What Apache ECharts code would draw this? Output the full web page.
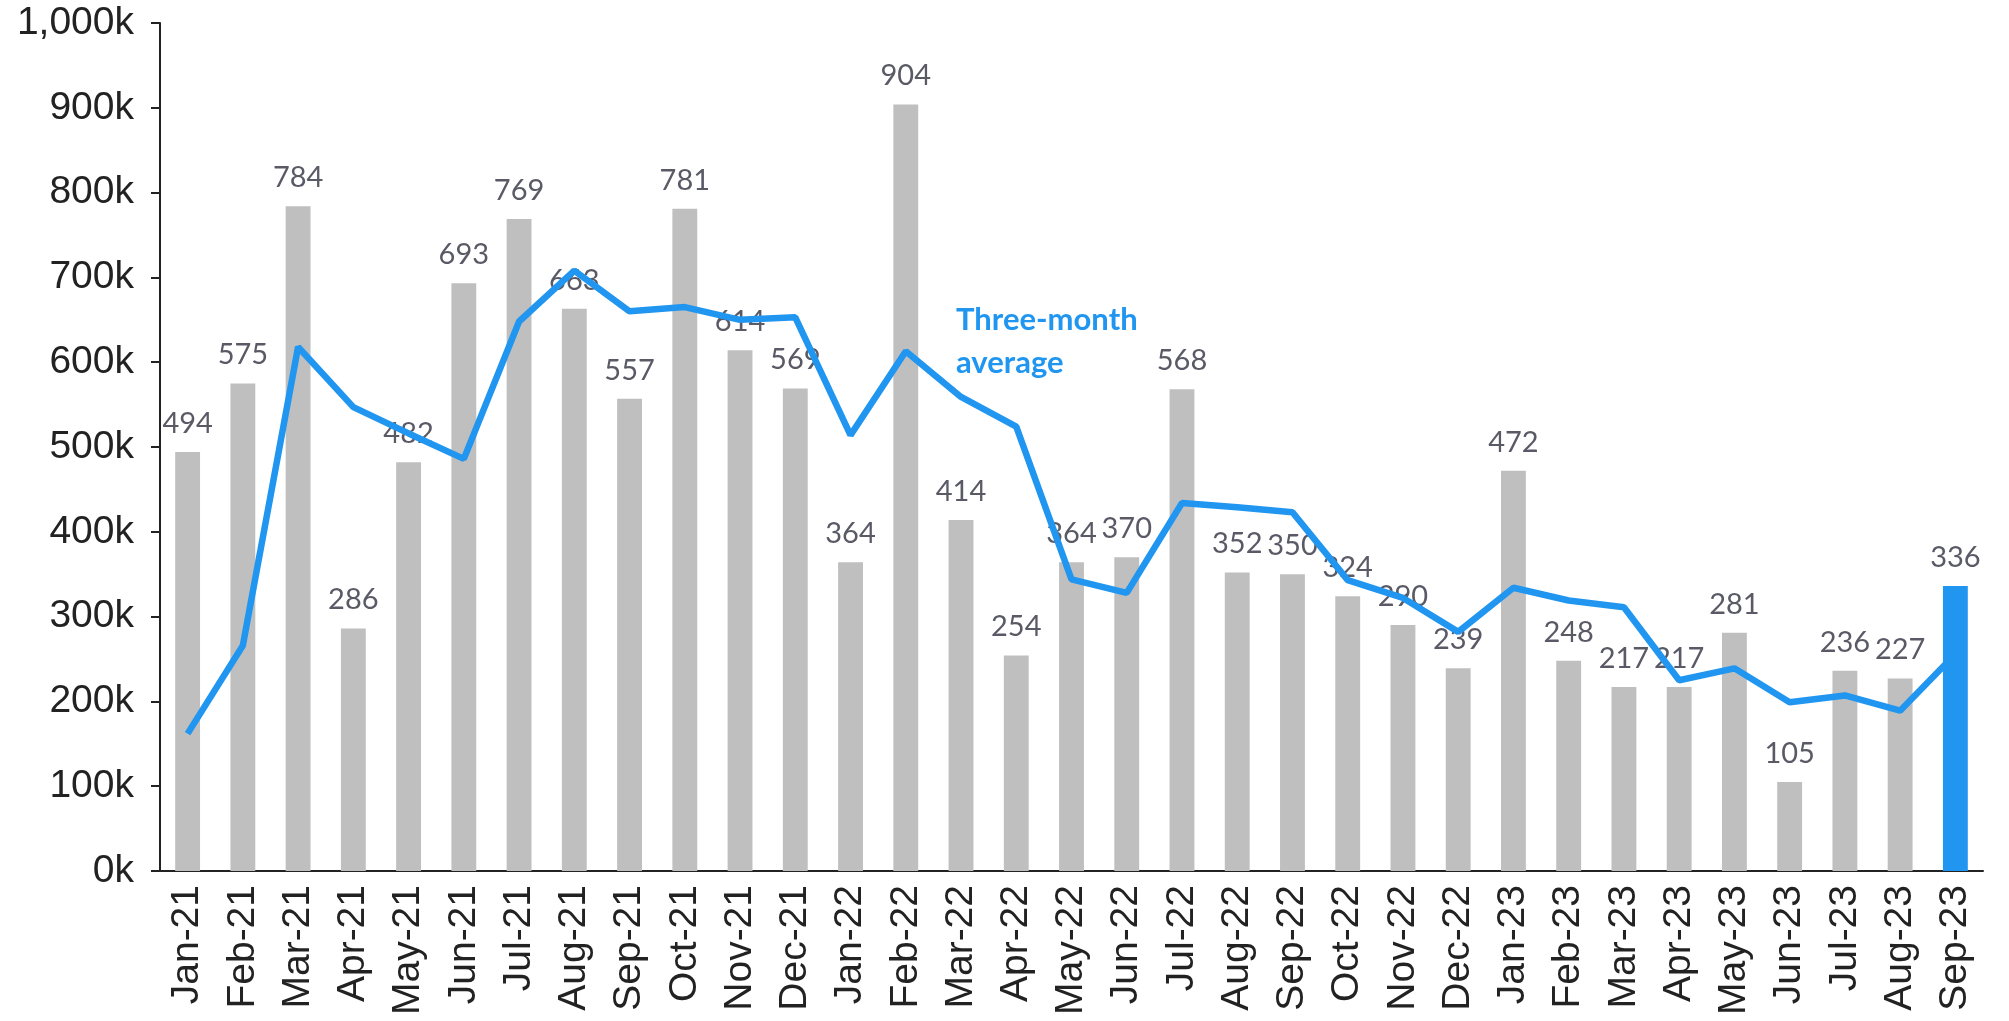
<!DOCTYPE html>
<html>
<head>
<meta charset="utf-8">
<script src="https://cdn.jsdelivr.net/npm/echarts@6/dist/echarts.min.js"></script>
<style>
  html, body { margin: 0; padding: 0; background: #fff; }
  #main { width: 2009px; height: 1021px; }
</style>
</head>
<body>
<div id="main"></div>
<script>
// monthly values, thousands
const months = ['Jan-21','Feb-21','Mar-21','Apr-21','May-21','Jun-21','Jul-21','Aug-21','Sep-21','Oct-21','Nov-21','Dec-21',
                'Jan-22','Feb-22','Mar-22','Apr-22','May-22','Jun-22','Jul-22','Aug-22','Sep-22','Oct-22','Nov-22','Dec-22',
                'Jan-23','Feb-23','Mar-23','Apr-23','May-23','Jun-23','Jul-23','Aug-23','Sep-23'];
const monthly = [494, 575, 784, 286, 482, 693, 769, 663, 557, 781, 614, 569,
                 364, 904, 414, 254, 364, 370, 568, 352, 350, 324, 290, 239,
                 472, 248, 217, 217, 281, 105, 236, 227, 336];
const threeMonthAvg = [162, 266, 618, 547, 516, 486, 648, 708, 660, 665, 650, 653,
                       514, 613, 559, 524, 344, 328, 434, 429, 423, 343, 322, 282,
                       334, 319, 311, 225, 239, 199, 207, 189, 256];
const yTicks = [0, 100, 200, 300, 400, 500, 600, 700, 800, 900, 1000];

const blue = '#2196f0';
const grey = '#bfbfbf';

var chart = echarts.init(document.getElementById('main'));

var barData = monthly.map(function (v, i) {
    if (i === monthly.length - 1) {
        return { value: v, itemStyle: { color: blue } };
    }
    return v;
});

var option = {
    animation: false,
    backgroundColor: '#fff',
    grid: { left: 160, right: 26, top: 23, bottom: 150 },
    xAxis: {
        type: 'category',
        data: months,
        axisLine: { lineStyle: { color: '#222', width: 2 } },
        axisTick: { show: false },
        axisLabel: {
            interval: 0,
            rotate: 90,
            margin: 14,
            color: '#222',
            fontFamily: 'Liberation Sans, Arial',
            fontSize: 39
        }
    },
    yAxis: {
        type: 'value',
        min: yTicks[0],
        max: yTicks[yTicks.length - 1],
        interval: 100,
        splitLine: { show: false },
        axisLine: { show: true, lineStyle: { color: '#222', width: 2 } },
        axisTick: { show: true, length: 9, lineStyle: { color: '#222', width: 2 } },
        axisLabel: {
            margin: 26,
            color: '#222',
            fontFamily: 'Liberation Sans, Arial',
            fontSize: 39,
            formatter: function (v) { return v.toLocaleString('en-US') + 'k'; }
        }
    },
    series: [
        {
            name: 'Monthly',
            type: 'bar',
            data: barData,
            barWidth: '45%',
            itemStyle: { color: grey },
            label: {
                show: true,
                position: 'top',
                distance: 14,
                color: '#5a5a66',
                fontFamily: 'Lato, Open Sans, sans-serif',
                fontSize: 29
            }
        },
        {
            name: 'Three-month average',
            type: 'line',
            data: threeMonthAvg,
            symbol: 'none',
            lineStyle: { color: blue, width: 6.5 },
            z: 3
        }
    ],
    graphic: [
        {
            type: 'text',
            left: 956,
            top: 298,
            style: {
                text: 'Three-month\naverage',
                fill: blue,
                font: 'bold 31px Lato, sans-serif',
                lineHeight: 43
            }
        }
    ]
};

chart.setOption(option);
</script>
</body>
</html>
